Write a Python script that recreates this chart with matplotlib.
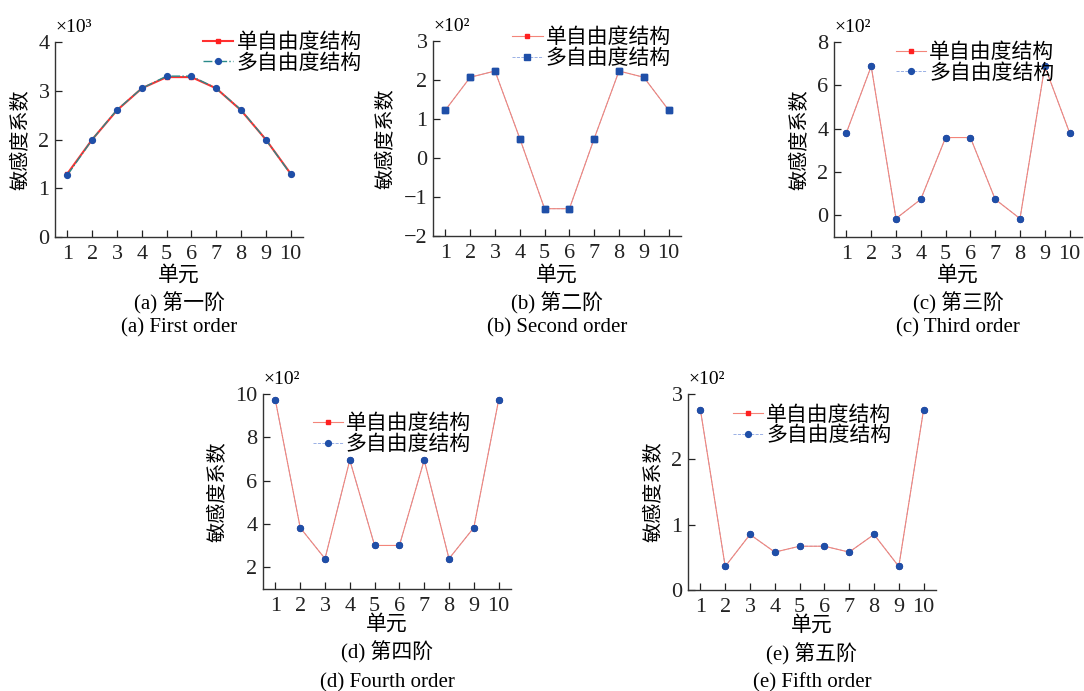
import matplotlib
matplotlib.use('Agg')
import matplotlib.pyplot as plt

plt.rcParams['font.family'] = ['Liberation Serif', 'Noto Sans CJK SC']
plt.rcParams['axes.unicode_minus'] = True

elements = list(range(1, 11))

# values in units of the axis multiplier (x10^3 for (a), x10^2 otherwise)
single_1 = [1.30, 2.00, 2.60, 3.05, 3.28, 3.28, 3.05, 2.60, 2.00, 1.30]
multi_1 = [1.27, 2.00, 2.61, 3.05, 3.30, 3.30, 3.05, 2.61, 2.00, 1.29]
single_2 = [1.23, 2.07, 2.23, 0.50, -1.30, -1.30, 0.50, 2.23, 2.07, 1.23]
multi_2 = [1.23, 2.07, 2.23, 0.50, -1.30, -1.30, 0.50, 2.23, 2.07, 1.23]
single_3 = [3.81, 6.88, -0.15, 0.74, 3.59, 3.59, 0.74, -0.15, 6.88, 3.81]
multi_3 = [3.81, 6.88, -0.15, 0.74, 3.59, 3.59, 0.74, -0.15, 6.88, 3.81]
single_4 = [9.71, 3.83, 2.40, 6.95, 3.01, 3.01, 6.95, 2.40, 3.83, 9.71]
multi_4 = [9.71, 3.83, 2.40, 6.95, 3.01, 3.01, 6.95, 2.40, 3.83, 9.71]
single_5 = [2.76, 0.36, 0.85, 0.58, 0.67, 0.67, 0.58, 0.85, 0.36, 2.76]
multi_5 = [2.76, 0.36, 0.85, 0.58, 0.67, 0.67, 0.58, 0.85, 0.36, 2.76]

labels = ['单自由度结构', '多自由度结构']
captions_cn = ['(a) 第一阶', '(b) 第二阶', '(c) 第三阶', '(d) 第四阶', '(e) 第五阶']
captions_en = ['(a) First order', '(b) Second order', '(c) Third order',
               '(d) Fourth order', '(e) Fifth order']
multipliers = ['×10³', '×10²', '×10²', '×10²', '×10²']
ylims = [(0, 4), (-2, 3), (-1, 8), (1, 10), (0, 3)]
yticks = [[0, 1, 2, 3, 4], [-2, -1, 0, 1, 2, 3], [0, 2, 4, 6, 8],
          [2, 4, 6, 8, 10], [0, 1, 2, 3]]
singles = [single_1, single_2, single_3, single_4, single_5]
multis = [multi_1, multi_2, multi_3, multi_4, multi_5]

W, H = 1084, 691
# axes boxes in pixels: left, top, right, bottom
boxes = [(55, 42, 303, 237), (433, 41, 681, 236), (834, 42, 1082, 237),
         (263, 394, 511, 589), (688, 394, 936, 590)]
# legend anchors in axes fraction
leg_anchor = [(0.597, 1.045), (0.32, 1.064), (0.25, 0.994), (0.2, 0.894), (0.18, 0.939)]
# y of xlabel, caption1, caption2 in pixels
text_rows = [(276, 303, 328), (276, 303, 328), (276, 303, 328),
             (625, 652, 683), (626, 654, 683)]

fig = plt.figure(figsize=(W / 100, H / 100), dpi=100)

for i in range(5):
    l, t, r, b = boxes[i]
    ax = fig.add_axes([l / W, 1 - b / H, (r - l) / W, (b - t) / H])

    if i == 0:
        ax.plot(elements, singles[i], '-', color='#ff3030', lw=1.5,
                marker='s', ms=3.5, mfc='#ff2020', mec='#ff2020', label=labels[0])
        ax.plot(elements, multis[i], '-.', color='#2a8a8a', lw=1.0,
                marker='o', ms=4.2, mfc='#1f4fa8', mec='#1f4fa8', label=labels[1])
    else:
        mk = 's' if i == 1 else 'o'
        ms = 4.2 if mk == 'o' else 4.0
        ax.plot(elements, singles[i], '-', color='#f3857a', lw=0.8, zorder=2,
                marker='s', ms=3.5, mfc='#ff2020', mec='#ff2020', label=labels[0])
        ax.plot(elements, multis[i], '--', color='#8aa4e0', lw=0.6, zorder=1.8,
                marker=mk, ms=ms, mfc='#1f4fa8', mec='#1f4fa8', label=labels[1])
        # multi markers sit on top of the single markers
        ax.plot(elements, multis[i], ls='none', marker=mk, ms=ms, zorder=2.5,
                mfc='#1f4fa8', mec='#1f4fa8', label='_nolegend_')

    ax.set_xlim(0.5, 10.5)
    ax.set_ylim(*ylims[i])
    ax.set_xticks(elements)
    ax.set_yticks(yticks[i])
    ax.set_yticklabels([str(v) if v >= 0 else '−' + str(-v) for v in yticks[i]])
    for s in ['top', 'right']:
        ax.spines[s].set_visible(False)
    for s in ['left', 'bottom']:
        ax.spines[s].set_linewidth(1.0)
        ax.spines[s].set_color('#333333')
    ax.tick_params(direction='in', length=5, width=0.9, colors='#222222',
                   labelsize=16, pad=4)
    ax.tick_params(axis='x', pad=6)
    ax.set_ylabel('敏感度系数', fontsize=14.5, labelpad=5)

    ax.text(0.0, 1.03, multipliers[i], transform=ax.transAxes, fontsize=14,
            ha='left', va='bottom')

    ax.legend(loc='upper left', bbox_to_anchor=leg_anchor[i], frameon=False,
              fontsize=15, handlelength=1.45, handletextpad=0.15,
              labelspacing=0.05, borderpad=0, borderaxespad=0)

    cx = (l + r) / 2 / W
    yl, c1, c2 = text_rows[i]
    fig.text(cx, 1 - yl / H, '单元', fontsize=15, ha='center', va='center')
    fig.text(cx, 1 - c1 / H, captions_cn[i], fontsize=15, ha='center', va='center')
    fig.text(cx, 1 - c2 / H, captions_en[i], fontsize=15, ha='center', va='center')

fig.savefig('out.png', dpi=100)
